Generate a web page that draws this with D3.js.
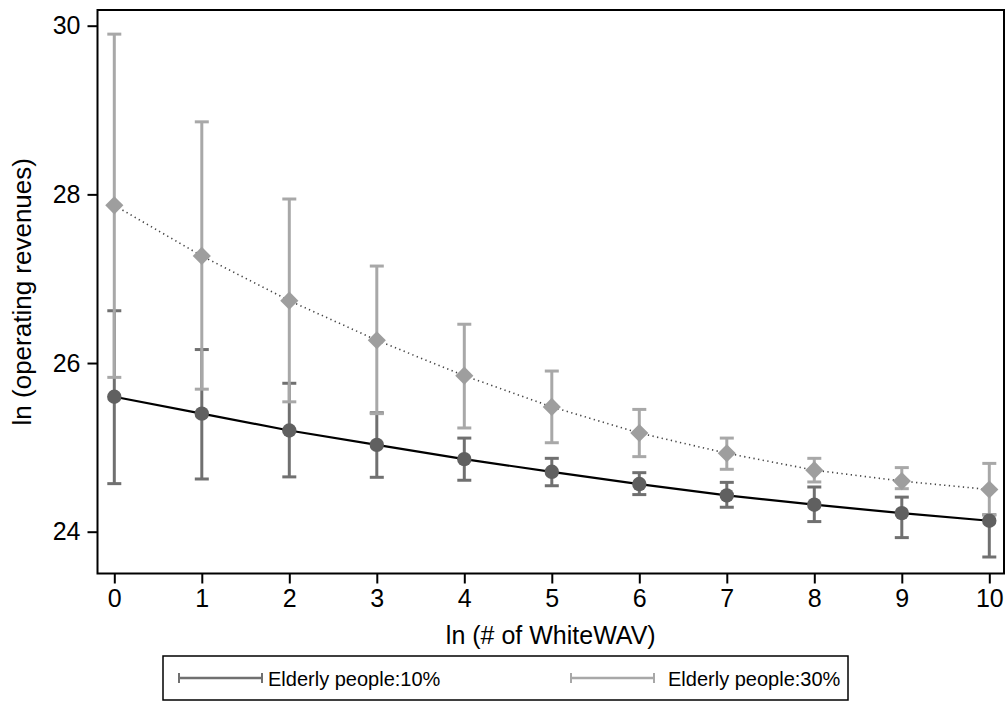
<!DOCTYPE html>
<html><head><meta charset="utf-8">
<script src="https://cdn.jsdelivr.net/npm/d3@7"></script>
<style>
html,body{margin:0;padding:0;background:#fff;}
svg text{font-family:"Liberation Sans",Arial,sans-serif;fill:#000;}
</style></head>
<body><svg id="c" width="1008" height="712"></svg>
<script>
const xValues = [0,1,2,3,4,5,6,7,8,9,10];
const series10Mean  = [25.60,25.40,25.20,25.03,24.86,24.71,24.565,24.43,24.32,24.22,24.13];
const series10Upper = [26.62,26.16,25.76,25.41,25.11,24.87,24.70,24.585,24.53,24.41,24.20];
const series10Lower = [24.57,24.625,24.65,24.645,24.61,24.545,24.44,24.29,24.12,23.93,23.70];
const series30Mean  = [27.87,27.27,26.74,26.27,25.85,25.48,25.17,24.93,24.73,24.60,24.50];
const series30Upper = [29.90,28.86,27.945,27.15,26.46,25.905,25.45,25.11,24.87,24.76,24.81];
const series30Lower = [25.83,25.69,25.54,25.40,25.23,25.055,24.89,24.74,24.59,24.51,24.20];
const xTicks = [0,1,2,3,4,5,6,7,8,9,10];
const yTicks = [24,26,28,30];
const legendLabels = ["Elderly people:10%","Elderly people:30%"];
const xTitle = "ln (# of WhiteWAV)";
const yTitle = "ln (operating revenues)";

const svg = d3.select("#c");
const L=97.5, R=1004, T=10, B=573.5;
const x = d3.scaleLinear().domain([0,10]).range([114.3,989.3]);
const y = d3.scaleLinear().domain([24,30]).range([531.7,25.7]);

const dark="#707070", darkFill="#606060", light="#a8a8a8", lightFill="#9e9e9e";
const capW=7;

// axes
const xAxis = svg.append("g").attr("transform",`translate(0,${B})`)
  .call(d3.axisBottom(x).tickValues(xTicks).tickFormat(d3.format("d")).tickSize(10).tickPadding(6).tickSizeOuter(0));
const yAxis = svg.append("g").attr("transform",`translate(${L},0)`)
  .call(d3.axisLeft(y).tickValues(yTicks).tickFormat(d3.format("d")).tickSize(10).tickPadding(7).tickSizeOuter(0));
[xAxis,yAxis].forEach(g=>{
  g.select(".domain").remove();
  g.selectAll("line").attr("stroke","#000").attr("stroke-width",2);
  g.selectAll("text").attr("font-size",25).attr("font-family",'"Liberation Sans",Arial,sans-serif').attr("fill","#000");
});
// frame
svg.append("rect").attr("x",L).attr("y",T).attr("width",R-L).attr("height",B-T)
  .attr("fill","none").attr("stroke","#000").attr("stroke-width",2);

function bars(upper,lower,color){
  const g=svg.append("g").attr("stroke",color).attr("stroke-width",3).attr("fill","none");
  xValues.forEach((xv,i)=>{
    g.append("line").attr("x1",x(xv)).attr("x2",x(xv)).attr("y1",y(upper[i])).attr("y2",y(lower[i]));
    g.append("line").attr("x1",x(xv)-capW).attr("x2",x(xv)+capW).attr("y1",y(upper[i])).attr("y2",y(upper[i]));
    g.append("line").attr("x1",x(xv)-capW).attr("x2",x(xv)+capW).attr("y1",y(lower[i])).attr("y2",y(lower[i]));
  });
}
bars(series10Upper,series10Lower,dark);
bars(series30Upper,series30Lower,light);

const line=d3.line().x((d,i)=>x(xValues[i])).y(d=>y(d));
svg.append("path").datum(series10Mean).attr("d",line).attr("fill","none").attr("stroke","#000").attr("stroke-width",2.2);
svg.append("path").datum(series30Mean).attr("d",line).attr("fill","none").attr("stroke","#444")
  .attr("stroke-width",1.6).attr("stroke-dasharray","1.3,3.4");

svg.append("g").selectAll("circle").data(series10Mean).join("circle")
  .attr("cx",(d,i)=>x(xValues[i])).attr("cy",d=>y(d)).attr("r",7.2).attr("fill",darkFill);
svg.append("g").selectAll("path").data(series30Mean).join("path")
  .attr("d",d3.symbol().type(d3.symbolDiamond2).size(210))
  .attr("transform",(d,i)=>`translate(${x(xValues[i])},${y(d)})`).attr("fill",lightFill);

// titles
svg.append("text").attr("x",(L+R)/2).attr("y",644).attr("text-anchor","middle").attr("font-size",25).text(xTitle);
svg.append("text").attr("transform",`translate(31,${(T+B)/2}) rotate(-90)`).attr("text-anchor","middle").attr("font-size",26).text(yTitle);

// legend
const lg=svg.append("g");
lg.append("rect").attr("x",163).attr("y",656).attr("width",685).attr("height",44).attr("fill","#fff").attr("stroke","#000").attr("stroke-width",1.5);
const keyX=[179,571], txtX=[268,668], cols=[dark,light];
legendLabels.forEach((lab,i)=>{
  const ky=678;
  lg.append("line").attr("x1",keyX[i]).attr("x2",keyX[i]+83).attr("y1",ky).attr("y2",ky).attr("stroke",cols[i]).attr("stroke-width",2.5);
  lg.append("line").attr("x1",keyX[i]).attr("x2",keyX[i]).attr("y1",ky-5).attr("y2",ky+5).attr("stroke",cols[i]).attr("stroke-width",2);
  lg.append("line").attr("x1",keyX[i]+83).attr("x2",keyX[i]+83).attr("y1",ky-5).attr("y2",ky+5).attr("stroke",cols[i]).attr("stroke-width",2);
  lg.append("text").attr("x",txtX[i]).attr("y",ky+7.5).attr("font-size",20).text(lab);
});
</script></body></html>
